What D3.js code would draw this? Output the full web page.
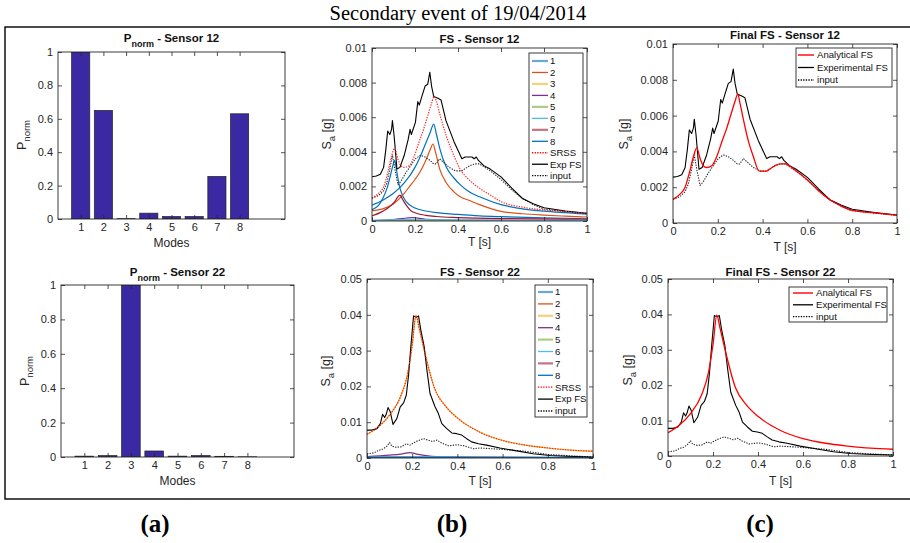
<!DOCTYPE html>
<html><head><meta charset="utf-8">
<script src="https://cdn.jsdelivr.net/npm/d3@7"></script>
<style>
body{margin:0;background:#fff}
svg{display:block}
text{font-family:"Liberation Sans",Arial,Helvetica,sans-serif;fill:#262626}
</style>
</head><body>
<svg id="c" width="910" height="543"></svg>
<script>
// ---------------- DATA ----------------
const modes = [1,2,3,4,5,6,7,8];
const pnorm12 = [1, 0.65, 0.002, 0.035, 0.015, 0.015, 0.255, 0.63];
const pnorm22 = [0.005, 0.008, 1, 0.035, 0.005, 0.008, 0.004, 0.001];
const pTicks = [0,0.2,0.4,0.6,0.8,1];
const tTicks = [0,0.2,0.4,0.6,0.8,1];
const ticks12 = [0,0.002,0.004,0.006,0.008,0.01];
const ticks22 = [0,0.01,0.02,0.03,0.04,0.05];
const modeLabels = ["1","2","3","4","5","6","7","8"];
const modeColors = ["#0072BD","#D95319","#EDB120","#7E2F8E","#77AC30","#4DBEEE","#A2142F","#0072BD"];
const legendB = ["1","2","3","4","5","6","7","8","SRSS","Exp FS","input"];
const legendC = ["Analytical FS","Experimental FS","input"];

// Sensor 12 spectra [T, Sa]
const s12m1 = [[0,0.00065],[0.03,0.0009],[0.05,0.0013],[0.07,0.0019],[0.085,0.0026],[0.097,0.0032],[0.105,0.0035],[0.112,0.0031],[0.12,0.0025],[0.13,0.0019],[0.145,0.0014],[0.16,0.0011],[0.2,0.00075],[0.25,0.00058],[0.3,0.00048],[0.4,0.00038],[0.5,0.0003],[0.6,0.00025],[0.8,0.00018],[1.0,0.00013]];
const s12m2 = [[0,0.0006],[0.05,0.0007],[0.1,0.001],[0.15,0.0016],[0.175,0.002],[0.2,0.0024],[0.222,0.0028],[0.25,0.0035],[0.27,0.0041],[0.284,0.00445],[0.295,0.0040],[0.315,0.0030],[0.346,0.0022],[0.38,0.0017],[0.41,0.0014],[0.45,0.0012],[0.5,0.00095],[0.6,0.00056],[0.7,0.00042],[0.8,0.00034],[0.9,0.00028],[1.0,0.00023]];
const s12m3 = [[0,0.00002],[0.1,0.00005],[0.13,0.0001],[0.16,0.00006],[0.3,0.00003],[1,0.00001]];
const s12m4 = [[0,0.00003],[0.1,0.00008],[0.19,0.0002],[0.25,0.0001],[0.4,0.00005],[1,0.00002]];
const s12m5 = [[0,0.00002],[0.2,0.00004],[1,0.00001]];
const s12m6 = [[0,0.00004],[0.15,0.00008],[0.3,0.00006],[1,0.00003]];
const s12m7 = [[0,0.0003],[0.04,0.0005],[0.067,0.0007],[0.09,0.0009],[0.105,0.0011],[0.12,0.0014],[0.13,0.0015],[0.14,0.0013],[0.16,0.0009],[0.18,0.0006],[0.206,0.00045],[0.25,0.00033],[0.3,0.00026],[0.4,0.0002],[0.6,0.00014],[1.0,0.0001]];
const s12m8 = [[0,0.00092],[0.05,0.0012],[0.1,0.0016],[0.15,0.0022],[0.2,0.0031],[0.22,0.0036],[0.25,0.0045],[0.27,0.0051],[0.287,0.0056],[0.3,0.0050],[0.315,0.0042],[0.346,0.0031],[0.38,0.0025],[0.41,0.0021],[0.45,0.0017],[0.5,0.0014],[0.6,0.00095],[0.7,0.0007],[0.8,0.00057],[0.9,0.00048],[1.0,0.0004]];
const s12srss = [[0,0.00132],[0.03,0.0016],[0.055,0.0020],[0.073,0.0028],[0.09,0.0037],[0.105,0.0042],[0.12,0.0036],[0.135,0.0032],[0.15,0.0031],[0.173,0.0032],[0.195,0.0037],[0.217,0.0045],[0.24,0.0053],[0.262,0.0062],[0.277,0.0068],[0.289,0.0072],[0.3,0.0069],[0.315,0.0062],[0.346,0.0049],[0.38,0.0038],[0.41,0.0030],[0.45,0.0024],[0.5,0.0019],[0.55,0.0015],[0.6,0.00112],[0.7,0.0008],[0.8,0.00064],[0.9,0.00054],[1.0,0.00046]];
const s12exp = [[0,0.00256],[0.02,0.0026],[0.039,0.0027],[0.054,0.0031],[0.064,0.0041],[0.073,0.0052],[0.083,0.0050],[0.091,0.0053],[0.095,0.0058],[0.103,0.0049],[0.116,0.0030],[0.13,0.0031],[0.15,0.0038],[0.168,0.0047],[0.177,0.0053],[0.183,0.0050],[0.202,0.0057],[0.213,0.0069],[0.22,0.0067],[0.232,0.0072],[0.247,0.0078],[0.259,0.0079],[0.269,0.0086],[0.277,0.0078],[0.287,0.0072],[0.307,0.0071],[0.321,0.0070],[0.344,0.0058],[0.381,0.0046],[0.418,0.0036],[0.433,0.0037],[0.465,0.0037],[0.475,0.0036],[0.485,0.0037],[0.495,0.0035],[0.52,0.0032],[0.55,0.0030],[0.6,0.00255],[0.65,0.0019],[0.7,0.0013],[0.75,0.0010],[0.8,0.00077],[0.9,0.00058],[1.0,0.00045]];
const s12input = [[0,0.00132],[0.031,0.00147],[0.054,0.00175],[0.069,0.0022],[0.083,0.0030],[0.095,0.0038],[0.106,0.0030],[0.121,0.0021],[0.135,0.0023],[0.158,0.0028],[0.18,0.0032],[0.202,0.0036],[0.225,0.0038],[0.247,0.0037],[0.27,0.0035],[0.287,0.0033],[0.298,0.0033],[0.314,0.0036],[0.332,0.0034],[0.359,0.0031],[0.388,0.0029],[0.418,0.0029],[0.43,0.0030],[0.455,0.0032],[0.478,0.0033],[0.5,0.0033],[0.55,0.0029],[0.6,0.0024],[0.65,0.0018],[0.7,0.0013],[0.75,0.00095],[0.8,0.00069],[0.9,0.00055],[1.0,0.00043]];
const s12anal = [[0,0.00132],[0.03,0.0016],[0.054,0.0020],[0.073,0.0028],[0.091,0.0037],[0.106,0.0042],[0.121,0.0036],[0.135,0.0032],[0.15,0.0031],[0.173,0.0032],[0.195,0.0037],[0.217,0.0045],[0.24,0.0053],[0.262,0.0062],[0.277,0.0068],[0.289,0.0072],[0.299,0.0067],[0.314,0.0058],[0.336,0.0046],[0.359,0.0037],[0.385,0.0029],[0.418,0.0029],[0.43,0.0030],[0.455,0.0032],[0.478,0.0033],[0.5,0.0033],[0.55,0.0029],[0.6,0.0024],[0.65,0.0018],[0.7,0.0013],[0.75,0.00095],[0.8,0.0007],[0.9,0.00056],[1.0,0.00043]];

// Sensor 22 spectra [T, Sa]
const s22m1 = [[0,0.0002],[0.3,0.0002],[1,0.0001]];
const s22m2 = [[0,0.0002],[0.2,0.0003],[1,0.0001]];
const s22m3 = [[0,0.0066],[0.05,0.0087],[0.1,0.012],[0.15,0.0174],[0.18,0.0236],[0.2,0.0315],[0.217,0.0398],[0.23,0.0365],[0.25,0.031],[0.3,0.0193],[0.35,0.0143],[0.4,0.0112],[0.5,0.0072],[0.6,0.0049],[0.7,0.0036],[0.8,0.0028],[0.9,0.0022],[1.0,0.0019]];
const s22m4 = [[0,0.0004],[0.1,0.0008],[0.15,0.0011],[0.19,0.0015],[0.22,0.0011],[0.27,0.0006],[0.35,0.0003],[0.5,0.0002],[1,0.0001]];
const s22m5 = [[0,0.0001],[1,0.00005]];
const s22m6 = [[0,0.0002],[0.25,0.0003],[1,0.0001]];
const s22m7 = [[0,0.0001],[1,0.00005]];
const s22m8 = [[0,0.0002],[1,0.0001]];
const s22srss = [[0,0.0066],[0.05,0.0087],[0.1,0.012],[0.15,0.0174],[0.18,0.0236],[0.2,0.0315],[0.217,0.0398],[0.23,0.0365],[0.25,0.031],[0.3,0.0193],[0.35,0.0143],[0.4,0.0112],[0.5,0.0072],[0.6,0.0049],[0.7,0.0036],[0.8,0.0028],[0.9,0.0022],[1.0,0.0019]];
const s22exp = [[0,0.0078],[0.022,0.0078],[0.044,0.0082],[0.059,0.0096],[0.069,0.0122],[0.078,0.0113],[0.085,0.0122],[0.093,0.0141],[0.103,0.0129],[0.115,0.0094],[0.132,0.011],[0.147,0.0143],[0.162,0.0154],[0.174,0.0176],[0.184,0.0232],[0.194,0.0311],[0.206,0.0397],[0.218,0.0393],[0.228,0.0397],[0.238,0.0358],[0.253,0.0311],[0.265,0.0246],[0.279,0.018],[0.301,0.0143],[0.316,0.0124],[0.331,0.0096],[0.353,0.0082],[0.375,0.007],[0.397,0.0068],[0.419,0.0064],[0.441,0.0054],[0.463,0.0045],[0.493,0.004],[0.529,0.0036],[0.588,0.0028],[0.662,0.002],[0.735,0.0012],[0.809,0.0007],[0.882,0.0005],[1.0,0.0003]];
const s22input = [[0,0.0012],[0.03,0.0014],[0.05,0.0021],[0.07,0.0025],[0.085,0.0031],[0.1,0.0043],[0.11,0.0033],[0.13,0.003],[0.15,0.0031],[0.175,0.004],[0.19,0.0036],[0.2,0.004],[0.22,0.0047],[0.25,0.0054],[0.27,0.005],[0.29,0.0046],[0.31,0.005],[0.33,0.0042],[0.36,0.0034],[0.4,0.0037],[0.43,0.0034],[0.47,0.0026],[0.5,0.0028],[0.6,0.0024],[0.7,0.0019],[0.8,0.001],[0.9,0.0006],[1.0,0.0003]];
const s22anal = s22srss;

// ---------------- DRAWING ----------------
const svg = d3.select("#c");
const AX = "#262626";
const fmt = d => d === 0 ? "0" : String(+d.toFixed(4));
let clipId = 0;

// outer frame and headings
svg.append("rect").attr("x",5).attr("y",27).attr("width",912).attr("height",472)
  .attr("fill","none").attr("stroke","#000").attr("stroke-width",1.4);
svg.append("text").attr("x",458).attr("y",20).attr("text-anchor","middle")
  .style("font-family","'Liberation Serif','Times New Roman',serif").style("fill","#000")
  .attr("font-size",20.5).text("Secondary event of 19/04/2014");
[["(a)",155],["(b)",452],["(c)",760]].forEach(([t,x]) => {
  svg.append("text").attr("x",x).attr("y",532).attr("text-anchor","middle")
    .style("font-family","'Liberation Serif','Times New Roman',serif").style("fill","#000")
    .attr("font-size",25).attr("font-weight","bold").text(t);
});

function makeAxes(box, xDom, yDom, xTickVals, yTickVals) {
  const g = svg.append("g");
  const x = d3.scaleLinear().domain(xDom).range([box.x0, box.x1]);
  const y = d3.scaleLinear().domain(yDom).range([box.y1, box.y0]);
  const id = "clip" + (clipId++);
  svg.append("defs").append("clipPath").attr("id", id).append("rect")
    .attr("x", box.x0).attr("y", box.y0).attr("width", box.x1 - box.x0).attr("height", box.y1 - box.y0);
  const plot = g.append("g").attr("clip-path", `url(#${id})`);
  const style = sel => { sel.select(".domain").remove();
    sel.selectAll("line").attr("stroke", AX).attr("stroke-width", 0.8);
    sel.selectAll("text").attr("font-size", 11).style("fill", AX).attr("font-family", null); };
  g.append("g").attr("transform", `translate(0,${box.y1})`)
    .call(d3.axisBottom(x).tickValues(xTickVals).tickSizeInner(-4).tickSizeOuter(0).tickPadding(4.5).tickFormat(fmt)).call(style);
  g.append("g").attr("transform", `translate(0,${box.y0})`)
    .call(d3.axisTop(x).tickValues(xTickVals).tickSizeInner(-4).tickSizeOuter(0).tickFormat("")).call(style);
  g.append("g").attr("transform", `translate(${box.x0},0)`)
    .call(d3.axisLeft(y).tickValues(yTickVals).tickSizeInner(-4).tickSizeOuter(0).tickPadding(5).tickFormat(fmt)).call(style);
  g.append("g").attr("transform", `translate(${box.x1},0)`)
    .call(d3.axisRight(y).tickValues(yTickVals).tickSizeInner(-4).tickSizeOuter(0).tickFormat("")).call(style);
  const frame = () => g.append("rect").attr("x", box.x0).attr("y", box.y0)
    .attr("width", box.x1 - box.x0).attr("height", box.y1 - box.y0)
    .attr("fill", "none").attr("stroke", AX).attr("stroke-width", 0.9);
  return {g, plot, x, y, box, frame};
}

function title(ax, yBase, parts) {
  const t = ax.g.append("text").attr("x", (ax.box.x0 + ax.box.x1) / 2).attr("y", yBase)
    .attr("text-anchor", "middle").attr("font-size", 11.5).attr("font-weight", "bold").style("fill", "#111");
  parts.forEach(p => {
    const s = t.append("tspan").text(p.t);
    if (p.sub) s.attr("font-size", 9).attr("dy", 4.5);
    if (p.up) s.attr("dy", -4.5);
  });
}
function ylabel(ax, x, yc, main, sub, rest) {
  const t = ax.g.append("text").attr("transform", `translate(${x},${yc}) rotate(-90)`)
    .attr("text-anchor", "middle").attr("font-size", 12.5).style("fill", AX);
  t.append("tspan").text(main);
  t.append("tspan").attr("font-size", 9.5).attr("dy", 4).text(sub);
  t.append("tspan").attr("dy", -4).text(rest);
}
function xlabel(ax, yBase, txt) {
  ax.g.append("text").attr("x", (ax.box.x0 + ax.box.x1) / 2).attr("y", yBase)
    .attr("text-anchor", "middle").attr("font-size", 12).style("fill", AX).text(txt);
}

function bars(ax, vals) {
  ax.plot.selectAll("rect.bar").data(vals).join("rect").attr("class", "bar")
    .attr("x", (d, i) => ax.x(modes[i] - 0.4))
    .attr("width", (d, i) => ax.x(modes[i] + 0.4) - ax.x(modes[i] - 0.4))
    .attr("y", d => ax.y(d)).attr("height", d => Math.max(0.6, ax.y(0) - ax.y(d)))
    .attr("fill", "#3b28a3").attr("stroke", "#222").attr("stroke-width", 0.7);
}

function curve(ax, data, color, width, dash, smooth) {
  const line = d3.line().x(d => ax.x(d[0])).y(d => ax.y(d[1]))
    .curve(smooth ? d3.curveMonotoneX : d3.curveLinear);
  ax.plot.append("path").datum(data).attr("d", line).attr("fill", "none")
    .attr("stroke", color).attr("stroke-width", width)
    .attr("stroke-dasharray", dash || null).attr("stroke-linejoin", "round");
}

function legend(ax, bx, labels, styles, sample, textX, y0, step) {
  const g = ax.g.append("g");
  g.append("rect").attr("x", bx.x0).attr("y", bx.y0).attr("width", bx.x1 - bx.x0).attr("height", bx.y1 - bx.y0)
    .attr("fill", "#fff").attr("stroke", "#262626").attr("stroke-width", 0.9);
  labels.forEach((l, i) => {
    const yy = y0 + i * step;
    const s = styles[i];
    g.append("line").attr("x1", sample[0]).attr("x2", sample[1]).attr("y1", yy).attr("y2", yy)
      .attr("stroke", s.c).attr("stroke-width", s.w).attr("stroke-dasharray", s.d || null)
      .attr("stroke-opacity", s.o || 1);
    g.append("text").attr("x", textX).attr("y", yy).attr("dy", "0.35em").attr("font-size", 9.6)
      .style("fill", "#111").text(l);
  });
}

const DOT = "1.3,1.3";
const modeStyles = modeColors.map((c, i) => ({c, w: i % 2 === 0 ? 2.2 : 1.3, o: i % 2 === 0 ? 0.6 : 1}));
const bStyles = modeStyles.concat([{c:"#ff0000", w:1.3, d:DOT}, {c:"#000", w:1.3}, {c:"#000", w:1.3, d:DOT}]);
const cStyles = [{c:"#ff0000", w:1.4}, {c:"#000", w:1.3}, {c:"#000", w:1.3, d:DOT}];

// ---- Panel (a) top ----
const a1 = makeAxes({x0:58, x1:285, y0:52, y1:219}, [0,10], [0,1], modes, pTicks);
bars(a1, pnorm12); a1.frame();
title(a1, 42, [{t:"P"},{t:"norm", sub:true},{t:" - Sensor 12", up:true}]);
ylabel(a1, 26, 135, "P", "norm", "");
xlabel(a1, 247, "Modes");

// ---- Panel (a) bottom ----
const a2 = makeAxes({x0:61, x1:294, y0:285, y1:457}, [0,10], [0,1], modes, pTicks);
bars(a2, pnorm22); a2.frame();
title(a2, 276, [{t:"P"},{t:"norm", sub:true},{t:" - Sensor 22", up:true}]);
ylabel(a2, 29, 371, "P", "norm", "");
xlabel(a2, 485, "Modes");

// ---- Panel (b) top ----
const b1 = makeAxes({x0:372, x1:587, y0:48, y1:221}, [0,1], [0,0.01], tTicks, ticks12);
const s12modes = [s12m1, s12m2, s12m3, s12m4, s12m5, s12m6, s12m7, s12m8];
s12modes.forEach((m, i) => curve(b1, m, modeColors[i], 1.2, null, true));
curve(b1, s12input, "#222", 1.1, DOT, false);
curve(b1, s12exp, "#000", 1.1, null, false);
curve(b1, s12srss, "#ff2020", 1.2, DOT, true);
b1.frame();
title(b1, 43, [{t:"FS - Sensor 12"}]);
ylabel(b1, 331, 134, "S", "a", " [g]");
xlabel(b1, 246, "T [s]");
legend(b1, {x0:529, x1:583, y0:53, y1:182}, legendB, bStyles, [532, 548], 550, 61, 11.47);

// ---- Panel (b) bottom ----
const b2 = makeAxes({x0:367, x1:593, y0:279, y1:458}, [0,1], [0,0.05], tTicks, ticks22);
const s22modes = [s22m1, s22m2, s22m3, s22m4, s22m5, s22m6, s22m7, s22m8];
s22modes.forEach((m, i) => curve(b2, m, modeColors[i], 1.2, null, true));
curve(b2, s22input, "#222", 1.1, DOT, false);
curve(b2, s22exp, "#000", 1.1, null, false);
curve(b2, s22srss, "#ff2020", 1.2, DOT, true);
b2.frame();
title(b2, 276, [{t:"FS - Sensor 22"}]);
ylabel(b2, 330, 371, "S", "a", " [g]");
xlabel(b2, 485, "T [s]");
legend(b2, {x0:535, x1:587, y0:285, y1:417}, legendB, bStyles, [538, 553], 555, 292, 11.9);

// ---- Panel (c) top ----
const c1 = makeAxes({x0:673, x1:897, y0:44, y1:223}, [0,1], [0,0.01], tTicks, ticks12);
curve(c1, s12input, "#222", 1.1, DOT, false);
curve(c1, s12exp, "#000", 1.1, null, false);
curve(c1, s12anal, "#ff0000", 1.3, null, true);
c1.frame();
title(c1, 39, [{t:"Final FS - Sensor 12"}]);
ylabel(c1, 628, 134, "S", "a", " [g]");
xlabel(c1, 251, "T [s]");
legend(c1, {x0:796, x1:892, y0:48, y1:87}, legendC, cStyles, [798, 814], 817, 55, 12.5);

// ---- Panel (c) bottom ----
const c2 = makeAxes({x0:668, x1:893, y0:279, y1:456}, [0,1], [0,0.05], tTicks, ticks22);
curve(c2, s22input, "#222", 1.1, DOT, false);
curve(c2, s22exp, "#000", 1.1, null, false);
curve(c2, s22anal, "#ff0000", 1.3, null, true);
c2.frame();
title(c2, 276, [{t:"Final FS - Sensor 22"}]);
ylabel(c2, 632, 370, "S", "a", " [g]");
xlabel(c2, 485, "T [s]");
legend(c2, {x0:789, x1:887, y0:287, y1:322}, legendC, cStyles, [793, 813], 816, 293, 11.8);
</script>
</body></html>
